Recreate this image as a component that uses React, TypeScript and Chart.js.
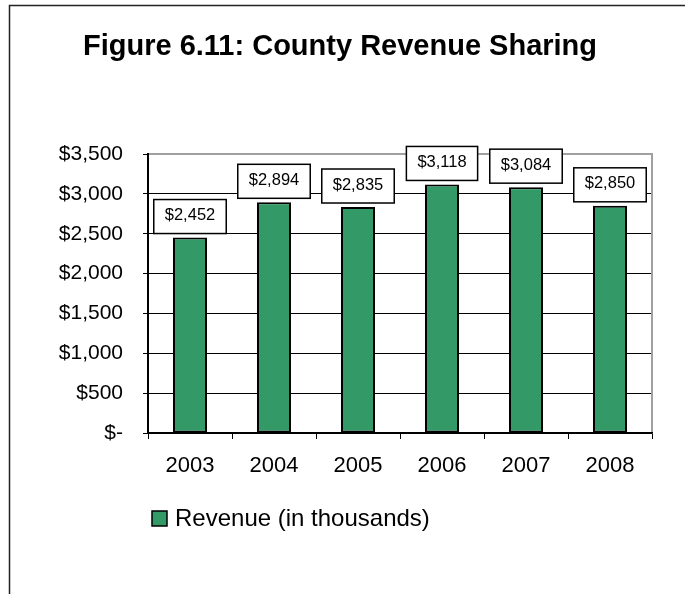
import React, { useEffect, useRef } from 'react';
import { Chart, registerables } from 'chart.js';

Chart.register(...registerables);

const categories = ['2003', '2004', '2005', '2006', '2007', '2008'];
const revenue = [2452, 2894, 2835, 3118, 3084, 2850];
const seriesLabel = 'Revenue (in thousands)';
const titleText = 'Figure 6.11: County Revenue Sharing';
const yTickValues = [0, 500, 1000, 1500, 2000, 2500, 3000, 3500];
const yTickLabels = ['$-', '$500', '$1,000', '$1,500', '$2,000', '$2,500', '$3,000', '$3,500'];

const FONT = '"Liberation Sans", Arial, sans-serif';
const BAR_GREEN = '#339966';

const fmtMoney = (v: number) => '$' + v.toLocaleString('en-US');

const decorPlugin = {
  id: 'decor',
  beforeDraw(chart: any) {
    const ctx = chart.ctx;
    ctx.save();
    ctx.fillStyle = '#ffffff';
    ctx.fillRect(0, 0, chart.width, chart.height);
    ctx.restore();
  },
  beforeDatasetsDraw(chart: any) {
    const { ctx, chartArea } = chart;
    ctx.save();
    ctx.strokeStyle = '#a0a0a0';
    ctx.lineWidth = 2;
    ctx.beginPath();
    ctx.moveTo(chartArea.left + 1, chartArea.top);
    ctx.lineTo(chartArea.right, chartArea.top);
    ctx.lineTo(chartArea.right, chartArea.bottom - 1);
    ctx.stroke();
    ctx.restore();
  },
  afterDatasetsDraw(chart: any) {
    const { ctx } = chart;
    const meta = chart.getDatasetMeta(0);
    const values = chart.data.datasets[0].data as number[];
    ctx.save();
    ctx.font = `16.5px ${FONT}`;
    ctx.textAlign = 'center';
    ctx.textBaseline = 'middle';
    meta.data.forEach((el: any, i: number) => {
      const text = fmtMoney(values[i]);
      const w = ctx.measureText(text).width + 22;
      const h = 34;
      const bottom = el.y - 4;
      const top = bottom - h;
      const left = el.x - w / 2;
      ctx.fillStyle = '#ffffff';
      ctx.fillRect(left, top, w, h);
      ctx.strokeStyle = '#000000';
      ctx.lineWidth = 1.5;
      ctx.strokeRect(left, top, w, h);
      ctx.fillStyle = '#000000';
      ctx.fillText(text, el.x, top + h / 2 - 1);
    });
    ctx.restore();
  },
  afterDraw(chart: any) {
    const { ctx } = chart;
    ctx.save();
    // outer frame
    ctx.strokeStyle = '#222222';
    ctx.lineWidth = 1.5;
    ctx.beginPath();
    ctx.moveTo(9.5, chart.height + 2);
    ctx.lineTo(9.5, 5.5);
    ctx.lineTo(chart.width + 2, 5.5);
    ctx.stroke();
    // title
    ctx.fillStyle = '#000000';
    ctx.font = `bold 29px ${FONT}`;
    ctx.textAlign = 'center';
    ctx.textBaseline = 'alphabetic';
    ctx.fillText(titleText, 340, 54.5);
    // legend
    const ds = chart.data.datasets[0];
    ctx.fillStyle = ds.backgroundColor;
    ctx.fillRect(152, 511, 15, 15);
    ctx.strokeStyle = '#000000';
    ctx.lineWidth = 1.5;
    ctx.strokeRect(152, 511, 15, 15);
    ctx.fillStyle = '#000000';
    ctx.font = `24px ${FONT}`;
    ctx.textAlign = 'left';
    ctx.fillText(ds.label, 175, 526);
    ctx.restore();
  },
};

export default function App() {
  const canvasRef = useRef<HTMLCanvasElement | null>(null);

  useEffect(() => {
    if (!canvasRef.current) return;
    const chart = new Chart(canvasRef.current, {
      type: 'bar',
      data: {
        labels: categories,
        datasets: [
          {
            label: seriesLabel,
            data: revenue,
            backgroundColor: BAR_GREEN,
            borderColor: '#000000',
            borderWidth: 2,
            borderSkipped: false,
            barPercentage: 0.405,
            categoryPercentage: 1,
          },
        ],
      },
      options: {
        responsive: false,
        animation: false,
        layout: { padding: { left: 10, right: 33, top: 154, bottom: 111 } },
        plugins: {
          legend: { display: false },
          title: { display: false },
          tooltip: { enabled: false },
        },
        scales: {
          x: {
            afterFit: (s: any) => {
              s.height = 50;
            },
            grid: {
              display: true,
              offset: true,
              drawOnChartArea: false,
              drawTicks: true,
              tickLength: 6,
              color: '#000000',
              lineWidth: 1,
            },
            border: { display: true, color: '#000000', width: 1.5 },
            ticks: {
              color: '#000000',
              font: { family: FONT, size: 22 },
              padding: 14,
            },
          },
          y: {
            min: 0,
            max: 3500,
            afterFit: (s: any) => {
              s.width = 138;
            },
            afterBuildTicks: (s: any) => {
              s.ticks = yTickValues.map((v) => ({ value: v }));
            },
            grid: {
              color: '#000000',
              lineWidth: 1,
              drawTicks: true,
              tickLength: 5,
            },
            border: { display: true, color: '#000000', width: 2 },
            ticks: {
              color: '#000000',
              font: { family: FONT, size: 21 },
              padding: 20,
              callback: (_v: any, i: number) => yTickLabels[i],
            },
          },
        },
      },
      plugins: [decorPlugin],
    });
    return () => chart.destroy();
  }, []);

  return (
    <div style={{ position: 'absolute', left: 0, top: 0, width: 685, height: 594, background: '#fff' }}>
      <canvas ref={canvasRef} width={685} height={594} style={{ display: 'block', width: 685, height: 594 }} />
    </div>
  );
}
